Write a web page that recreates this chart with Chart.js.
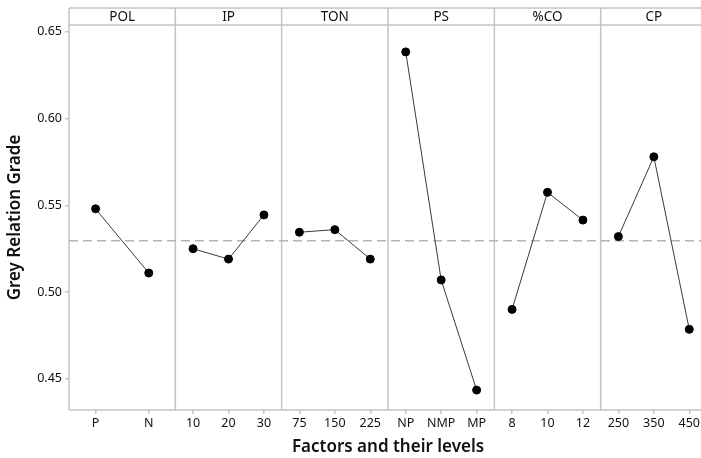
<!DOCTYPE html>
<html>
<head>
<meta charset="utf-8">
<script src="https://cdn.jsdelivr.net/npm/chart.js@4.4.0/dist/chart.umd.min.js"></script>
<style>
  html, body { margin: 0; padding: 0; background: #fff; overflow: hidden; }
  #wrap { width: 701px; height: 458px; overflow: hidden; position: relative; }
  #chart { position: absolute; left: 0; top: 0; }
</style>
</head>
<body>
<div id="wrap"><canvas id="chart" width="712" height="458"></canvas></div>
<script>
/* Main effects plot — grey relation grade */
(function () {
  "use strict";

  /* ── data ─────────────────────────────────────────────────── */
  var factorNames = ["POL", "IP", "TON", "PS", "%CO", "CP"];
  var polLevels = ["P", "N"];
  var polGrade = [0.548, 0.511];
  var ipLevels = ["10", "20", "30"];
  var ipGrade = [0.525, 0.519, 0.5445];
  var tonLevels = ["75", "150", "225"];
  var tonGrade = [0.5345, 0.536, 0.519];
  var psLevels = ["NP", "NMP", "MP"];
  var psGrade = [0.6385, 0.507, 0.4435];
  var coLevels = ["8", "10", "12"];
  var coGrade = [0.490, 0.5575, 0.5415];
  var cpLevels = ["250", "350", "450"];
  var cpGrade = [0.532, 0.578, 0.4785];
  var meanGrade = 0.5296;
  var yTicks = [0.45, 0.50, 0.55, 0.60, 0.65];

  var allLevels = [polLevels, ipLevels, tonLevels, psLevels, coLevels, cpLevels];
  var allGrades = [polGrade, ipGrade, tonGrade, psGrade, coGrade, cpGrade];

  /* panel i, level j of n -> centre of j-th slot in panel */
  var tickPos = [];
  var tickText = [];
  var datasets = [];
  allLevels.forEach(function (levels, i) {
    var pts = levels.map(function (lab, j) {
      var x = i + (j + 0.5) / levels.length;
      tickPos.push(x);
      tickText.push(lab);
      return { x: x, y: allGrades[i][j] };
    });
    datasets.push({
      data: pts,
      showLine: true,
      borderColor: "#3a3a3a",
      borderWidth: 1,
      pointRadius: 4,
      pointHoverRadius: 4,
      pointBackgroundColor: "#000",
      pointBorderColor: "#000",
      order: 1
    });
  });

  datasets.push({
    data: [{ x: 0, y: meanGrade }, { x: factorNames.length, y: meanGrade }],
    showLine: true,
    borderColor: "#b4b4b4",
    borderWidth: 1.5,
    borderDash: [9, 5],
    pointRadius: 0,
    order: 2
  });

  var FONT = "'Noto Sans', sans-serif";
  var GRID = "#c4c4c4";
  var INK = "#111";

  /* ── panel frames and strip headers ──────────────────────── */
  var panelPlugin = {
    id: "panels",
    beforeDatasetsDraw: function (chart) {
      var ctx = chart.ctx, a = chart.chartArea, xs = chart.scales.x;
      var stripTop = a.top - 17;
      ctx.save();
      ctx.strokeStyle = GRID;
      ctx.lineWidth = 1.5;
      ctx.beginPath();
      ctx.moveTo(a.left, stripTop); ctx.lineTo(a.right, stripTop);
      ctx.moveTo(a.left, a.top); ctx.lineTo(a.right, a.top);
      ctx.moveTo(a.left, a.bottom); ctx.lineTo(a.right, a.bottom);
      for (var i = 0; i <= factorNames.length; i++) {
        var px = xs.getPixelForValue(i);
        ctx.moveTo(px, stripTop); ctx.lineTo(px, a.bottom);
      }
      ctx.stroke();
      ctx.fillStyle = INK;
      ctx.font = "13.5px " + FONT;
      ctx.textAlign = "center";
      ctx.textBaseline = "middle";
      factorNames.forEach(function (name, i) {
        ctx.fillText(name, xs.getPixelForValue(i + 0.5), stripTop + 9);
      });
      ctx.restore();
    }
  };

  new Chart(document.getElementById("chart"), {
    type: "scatter",
    data: { datasets: datasets },
    plugins: [panelPlugin],
    options: {
      responsive: false,
      animation: false,
      layout: { padding: { top: 25, right: 1, left: 0, bottom: 0 } },
      plugins: { legend: { display: false }, tooltip: { enabled: false } },
      scales: {
        x: {
          type: "linear",
          min: 0,
          max: factorNames.length,
          afterBuildTicks: function (scale) {
            scale.ticks = tickPos.map(function (v) { return { value: v }; });
          },
          afterFit: function (scale) {
            scale.height = 48;
            scale.paddingLeft = 0;
            scale.paddingRight = 0;
          },
          grid: { drawOnChartArea: false, drawTicks: true, tickLength: 4, color: GRID, lineWidth: 1.5 },
          border: { display: false },
          ticks: {
            autoSkip: false,
            maxRotation: 0,
            padding: 2,
            color: INK,
            font: { family: FONT, size: 12.5 },
            callback: function (v, idx) { return tickText[idx]; }
          },
          title: {
            display: true,
            text: "Factors and their levels",
            color: INK,
            font: { family: FONT, size: 17, weight: "600" },
            padding: { top: 0, bottom: 1 }
          }
        },
        y: {
          min: 0.432,
          max: 0.654,
          afterBuildTicks: function (scale) {
            scale.ticks = yTicks.map(function (v) { return { value: v }; });
          },
          afterFit: function (scale) {
            scale.width = 69;
            scale.paddingTop = 0;
            scale.paddingBottom = 0;
          },
          grid: { drawOnChartArea: false, drawTicks: true, tickLength: 4, color: GRID, lineWidth: 1.5 },
          border: { display: false },
          ticks: {
            padding: 3,
            color: INK,
            font: { family: FONT, size: 12.5 },
            callback: function (v) { return v.toFixed(2); }
          },
          title: {
            display: true,
            text: "Grey Relation Grade",
            color: INK,
            font: { family: FONT, size: 17, weight: "600" },
            padding: { top: 5, bottom: 5 }
          }
        }
      }
    }
  });
})();
</script>
</body>
</html>
